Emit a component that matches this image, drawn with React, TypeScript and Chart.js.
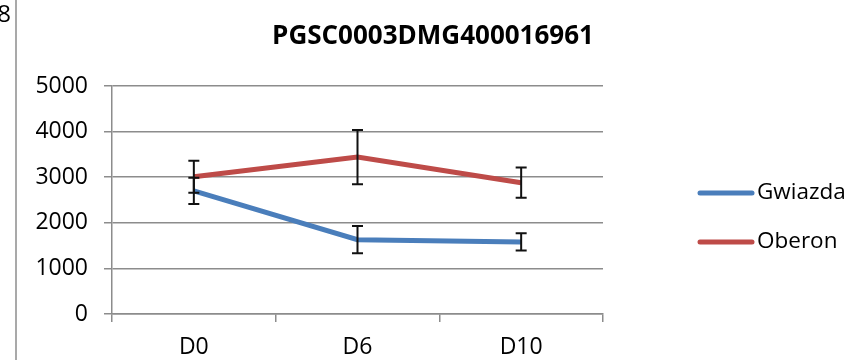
import { useEffect, useRef } from "react";
import { Chart, registerables } from "chart.js";

Chart.register(...registerables);

const categories = ["D0", "D6", "D10"];
const seriesNames = ["Gwiazda", "Oberon"];
const gwiazdaValues = [2700, 1630, 1580];
const gwiazdaErrors = [290, 300, 190];
const oberonValues = [3010, 3440, 2880];
const oberonErrors = [350, 595, 330];
const seriesColors = ["#4a7ebb", "#be4b48"];
const yMin = 0;
const yMax = 5000;
const yStep = 1000;
const chartTitle = "PGSC0003DMG400016961";
const strayLabel = "8";

const FONT = "'Open Sans', 'Noto Sans', sans-serif";
const GRID = "#8c8c8c";
const TEXT = "#000";

const errorBarPlugin = {
  id: "errorBars",
  afterDatasetsDraw(chart: any) {
    const ctx = chart.ctx;
    const y = chart.scales.y;
    ctx.save();
    ctx.strokeStyle = "#111";
    ctx.lineWidth = 2;
    chart.data.datasets.forEach((ds: any, i: number) => {
      const meta = chart.getDatasetMeta(i);
      const errs = ds.errors as number[];
      meta.data.forEach((pt: any, j: number) => {
        const v = ds.data[j];
        const e = errs[j];
        const yt = y.getPixelForValue(v + e);
        const yb = y.getPixelForValue(v - e);
        const x = pt.x;
        ctx.beginPath();
        ctx.moveTo(x, yt);
        ctx.lineTo(x, yb);
        ctx.moveTo(x - 5.5, yt);
        ctx.lineTo(x + 5.5, yt);
        ctx.moveTo(x - 5.5, yb);
        ctx.lineTo(x + 5.5, yb);
        ctx.stroke();
      });
    });
    ctx.restore();
  },
};

const decorPlugin = {
  id: "decor",
  afterDraw(chart: any) {
    const ctx = chart.ctx;
    ctx.save();
    ctx.strokeStyle = GRID;
    ctx.lineWidth = 1.5;
    ctx.beginPath();
    ctx.moveTo(16, 0);
    ctx.lineTo(16, 360);
    ctx.stroke();
    ctx.fillStyle = TEXT;
    ctx.font = `24px ${FONT}`;
    ctx.textBaseline = "middle";
    ctx.textAlign = "right";
    ctx.fillText(strayLabel, 11, 15);
    ctx.font = `bold 26px ${FONT}`;
    ctx.textAlign = "center";
    ctx.fillText(chartTitle, 433, 37);
    ctx.font = `22.5px ${FONT}`;
    ctx.textAlign = "left";
    const ys = [193, 242];
    chart.data.datasets.forEach((ds: any, i: number) => {
      const yy = ys[i];
      ctx.strokeStyle = ds.borderColor;
      ctx.lineWidth = 5;
      ctx.lineCap = "round";
      ctx.beginPath();
      ctx.moveTo(700, yy);
      ctx.lineTo(752, yy);
      ctx.stroke();
      ctx.fillText(ds.label, 757, yy);
    });
    ctx.restore();
  },
};

export default function App() {
  const ref = useRef<HTMLCanvasElement>(null);
  useEffect(() => {
    if (!ref.current) return;
    const chart = new Chart(ref.current, {
      type: "line",
      data: {
        labels: categories,
        datasets: [
          {
            label: seriesNames[0],
            data: gwiazdaValues,
            errors: gwiazdaErrors,
            borderColor: seriesColors[0],
            backgroundColor: seriesColors[0],
            borderWidth: 5,
            pointRadius: 0,
            tension: 0,
          } as any,
          {
            label: seriesNames[1],
            data: oberonValues,
            errors: oberonErrors,
            borderColor: seriesColors[1],
            backgroundColor: seriesColors[1],
            borderWidth: 5,
            pointRadius: 0,
            tension: 0,
          } as any,
        ],
      },
      options: {
        animation: false,
        responsive: false,
        devicePixelRatio: 1,
        layout: { padding: { left: 0, right: 255, top: 86, bottom: 0 } },
        plugins: {
          legend: { display: false },
          title: { display: false },
          tooltip: { enabled: false },
        },
        scales: {
          x: {
            offset: true,
            afterFit: (s: any) => {
              s.height = 46;
            },
            grid: {
              offset: true,
              drawOnChartArea: false,
              drawTicks: true,
              tickLength: 8,
              color: GRID,
              lineWidth: 1.5,
            },
            border: { color: GRID, width: 1.5 },
            ticks: {
              color: TEXT,
              font: { family: FONT, size: 23 },
              padding: 12,
            },
          },
          y: {
            min: yMin,
            max: yMax,
            afterFit: (s: any) => {
              s.width = 112;
            },
            ticks: {
              stepSize: yStep,
              color: TEXT,
              font: { family: FONT, size: 23 },
              padding: 16,
              callback: (v: any) => String(v),
            },
            grid: {
              color: GRID,
              lineWidth: 1.5,
              tickLength: 8,
            },
            border: { color: GRID, width: 1.5 },
          },
        },
      },
      plugins: [errorBarPlugin, decorPlugin],
    } as any);
    return () => chart.destroy();
  }, []);
  return (
    <div style={{ position: "fixed", left: 0, top: 0, width: 858, height: 360, background: "#fff" }}>
      <canvas ref={ref} width={858} height={360} style={{ width: 858, height: 360 }} />
    </div>
  );
}
